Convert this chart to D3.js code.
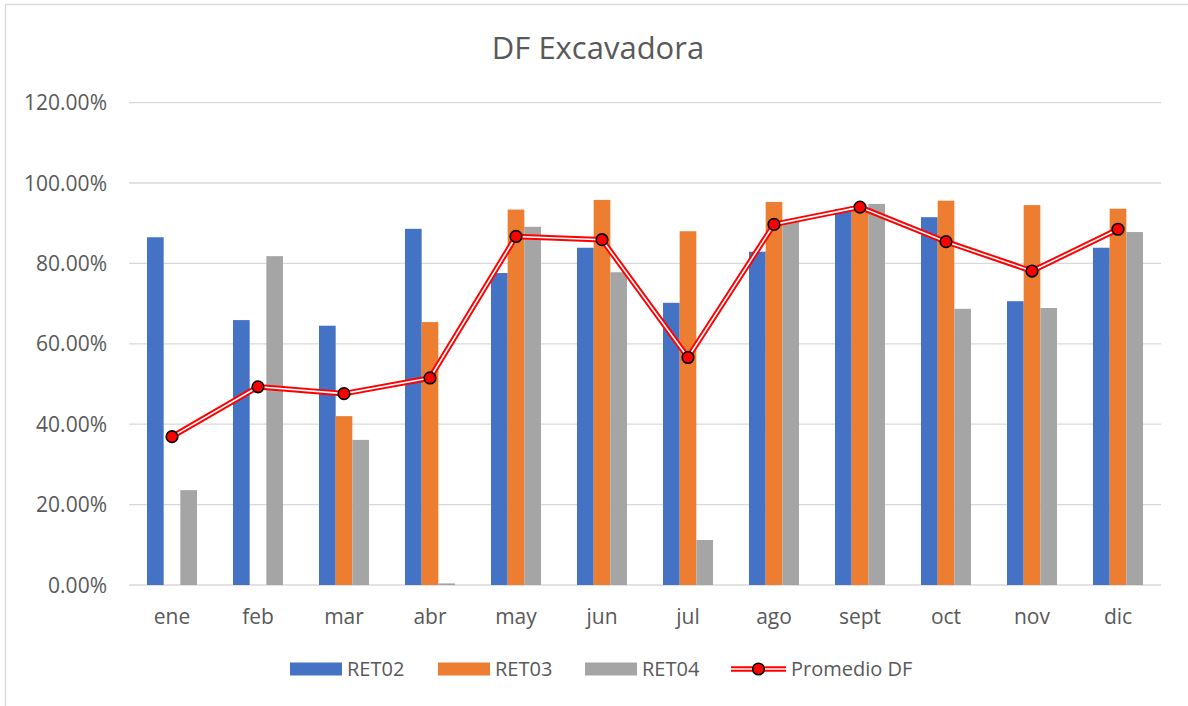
<!DOCTYPE html>
<meta charset="utf-8">
<title>DF Excavadora</title>
<head>
<style>
body { margin: 0; background: #fff; }
svg text { font-family: "Open Sans", "Liberation Sans", sans-serif; fill: #595959; }
.grid line { stroke: #d9d9d9; stroke-width: 1.3; }
</style>
</head>
<body>
<div id="chart"></div>
<script src="https://cdn.jsdelivr.net/npm/d3@7/dist/d3.min.js"></script>
<script>
// valores (fraccion, 1 = 100%)
var meses = ["ene","feb","mar","abr","may","jun","jul","ago","sept","oct","nov","dic"];
var ret02 = [0.865,0.659,0.645,0.886,0.776,0.839,0.702,0.829,0.935,0.915,0.706,0.839];
var ret03 = [0,0,0.420,0.654,0.934,0.958,0.880,0.953,0.937,0.956,0.945,0.936];
var ret04 = [0.236,0.818,0.361,0.004,0.891,0.778,0.112,0.904,0.948,0.687,0.689,0.878];
var promedio = [0.369,0.493,0.476,0.515,0.867,0.859,0.566,0.897,0.940,0.854,0.781,0.885];
var yTicks = [0,0.2,0.4,0.6,0.8,1.0,1.2];

var series = [
  {name: "RET02", values: ret02, color: "#4472c4"},
  {name: "RET03", values: ret03, color: "#ed7d31"},
  {name: "RET04", values: ret04, color: "#a5a5a5"}
];

var W = 1188, H = 706;
var svg = d3.select("#chart").append("svg")
    .attr("width", W)
    .attr("height", H);

// borde del area del grafico
svg.append("rect")
    .attr("x", 5.5).attr("y", 4.5)
    .attr("width", W + 20).attr("height", H + 20)
    .style("fill", "none").style("stroke", "#d9d9d9").style("stroke-width", 1.3);

var x0 = d3.scaleBand().domain(meses).range([129, 1161])
    .paddingInner(0.4186).paddingOuter(0.2093);
var x1 = d3.scaleBand().domain(series.map(function(s) { return s.name; }))
    .range([0, x0.bandwidth()]);
var y = d3.scaleLinear().domain([0, 1.2]).range([585, 102.6]);

svg.append("text")
    .attr("x", 598).attr("y", 59)
    .attr("text-anchor", "middle")
    .style("font-size", "31px")
    .text("DF Excavadora");

// lineas de cuadricula
svg.append("g").attr("class", "grid")
  .selectAll("line")
    .data(yTicks)
  .enter().append("line")
    .attr("x1", 129).attr("x2", 1161)
    .attr("y1", function(d) { return y(d); })
    .attr("y2", function(d) { return y(d); });

svg.append("g").selectAll("text")
    .data(yTicks)
  .enter().append("text")
    .attr("x", 107)
    .attr("y", function(d) { return y(d); })
    .attr("dy", "0.36em")
    .attr("text-anchor", "end")
    .style("font-size", "21px")
    .text(function(d) { return d3.format(".2%")(d); });

svg.append("g").selectAll("text")
    .data(meses)
  .enter().append("text")
    .attr("x", function(d) { return x0(d) + x0.bandwidth() / 2; })
    .attr("y", 624)
    .attr("text-anchor", "middle")
    .style("font-size", "21px")
    .text(function(d) { return d; });

// barras
var grupo = svg.append("g").selectAll("g")
    .data(series)
  .enter().append("g")
    .style("fill", function(s) { return s.color; });

grupo.selectAll("rect")
    .data(function(s) { return s.values.map(function(v, i) { return {mes: meses[i], v: v, s: s.name}; }); })
  .enter().append("rect")
    .attr("x", function(d) { return x0(d.mes) + x1(d.s); })
    .attr("width", x1.bandwidth())
    .attr("y", function(d) { return y(d.v); })
    .attr("height", function(d) { return 585 - y(d.v); });

// linea de promedio (doble: roja con centro blanco)
var linea = d3.line()
    .x(function(d, i) { return x0(meses[i]) + x0.bandwidth() / 2; })
    .y(function(d) { return y(d); });

svg.append("path").datum(promedio)
    .attr("d", linea)
    .style("fill", "none").style("stroke", "#ff0000").style("stroke-width", 5.5)
    .style("stroke-linejoin", "round");
svg.append("path").datum(promedio)
    .attr("d", linea)
    .style("fill", "none").style("stroke", "#fff").style("stroke-width", 1.6)
    .style("stroke-linejoin", "round");

svg.append("g").selectAll("circle")
    .data(promedio)
  .enter().append("circle")
    .attr("cx", function(d, i) { return x0(meses[i]) + x0.bandwidth() / 2; })
    .attr("cy", function(d) { return y(d); })
    .attr("r", 5.8)
    .style("fill", "#ff0000").style("stroke", "#000").style("stroke-width", 1.6);

// leyenda
var leyX = [290, 438, 585];
var ley = svg.append("g").selectAll("g")
    .data(series)
  .enter().append("g")
    .attr("transform", function(d, i) { return "translate(" + leyX[i] + ",669)"; });
ley.append("rect")
    .attr("x", 0).attr("y", -6.5)
    .attr("width", 52).attr("height", 13)
    .style("fill", function(d) { return d.color; });
ley.append("text")
    .attr("x", 57).attr("dy", "0.36em")
    .style("font-size", "20px")
    .text(function(d) { return d.name; });

var lp = svg.append("g").attr("transform", "translate(731,669)");
lp.append("line").attr("x1", 0).attr("x2", 55)
    .style("stroke", "#ff0000").style("stroke-width", 5.5);
lp.append("line").attr("x1", 0).attr("x2", 55)
    .style("stroke", "#fff").style("stroke-width", 1.6);
lp.append("circle").attr("cx", 27.5).attr("r", 5.8)
    .style("fill", "#ff0000").style("stroke", "#000").style("stroke-width", 1.6);
lp.append("text")
    .attr("x", 60).attr("dy", "0.36em")
    .style("font-size", "20px")
    .text("Promedio DF");
</script>
</body>
</html>
